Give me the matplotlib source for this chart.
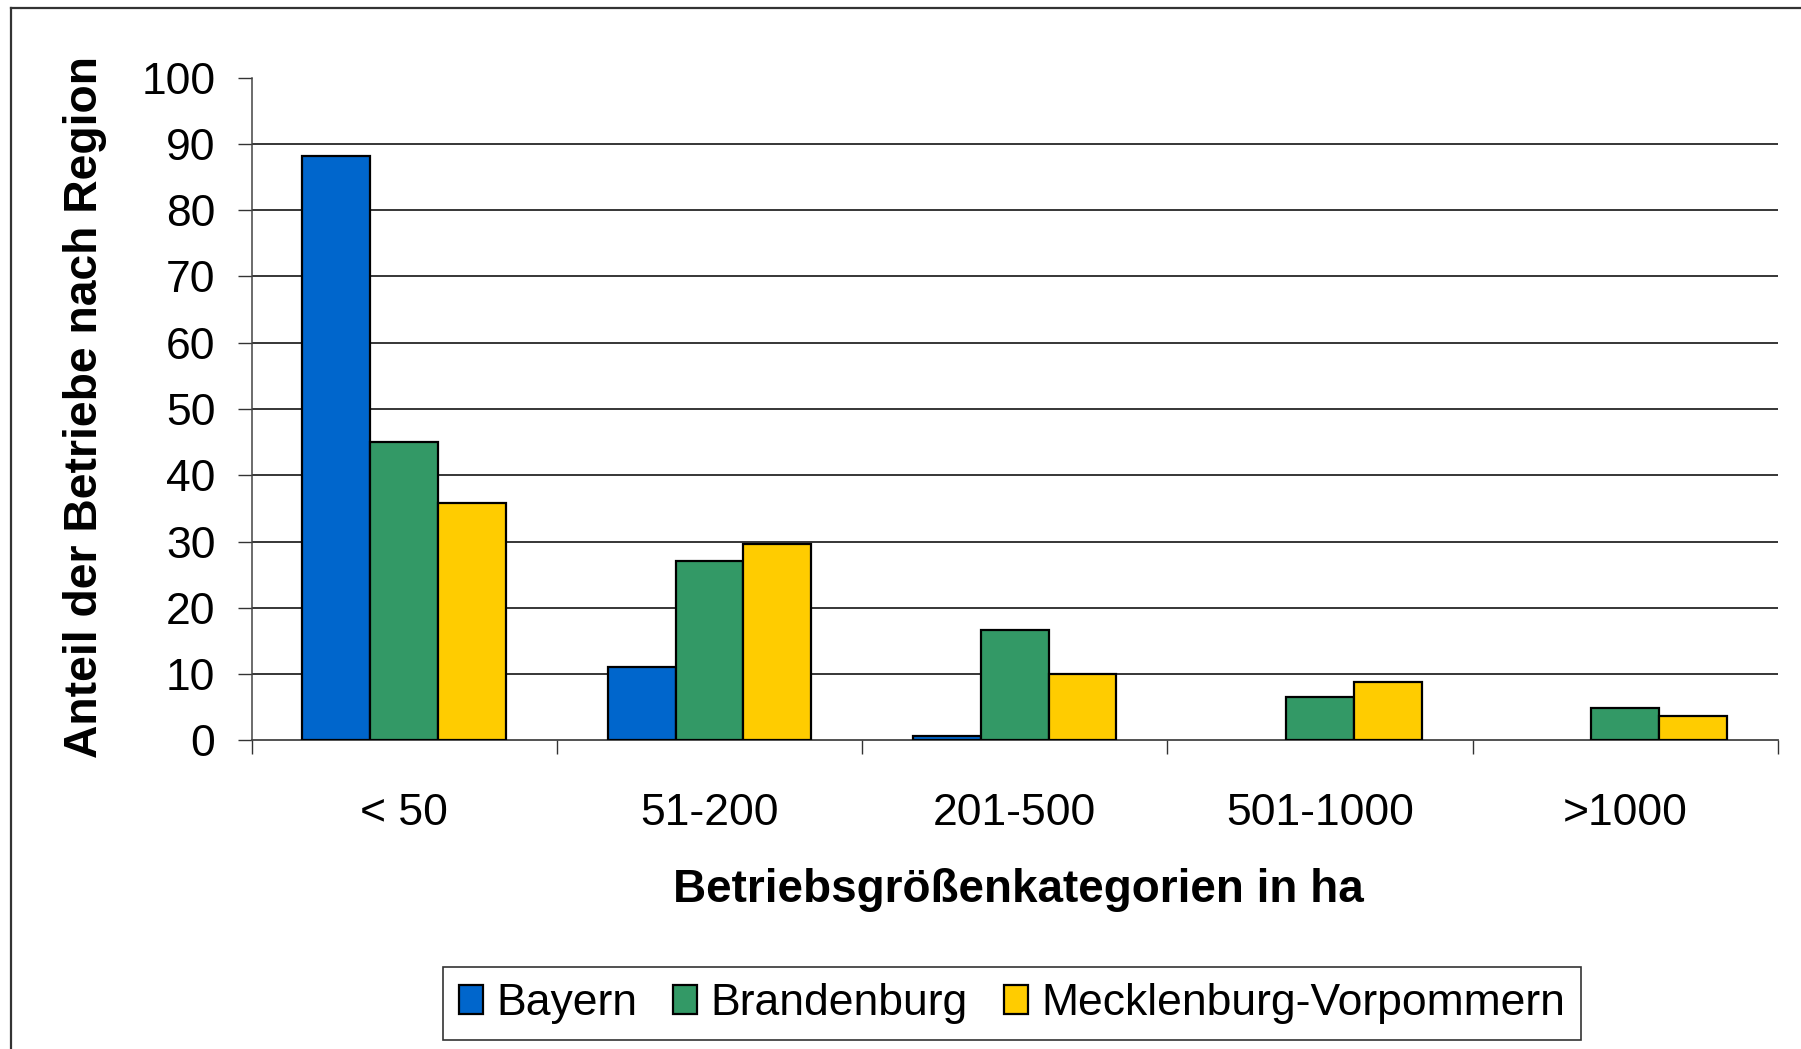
import matplotlib
matplotlib.use("Agg")
import matplotlib.pyplot as plt
from matplotlib.lines import Line2D
import numpy as np

plt.rcParams['font.family'] = ['Liberation Sans', 'DejaVu Sans']

categories = ["< 50", "51-200", "201-500", "501-1000", ">1000"]
series_names = ["Bayern", "Brandenburg", "Mecklenburg-Vorpommern"]
bayern = [88.2, 11.0, 0.6, 0.0, 0.0]
brandenburg = [45.0, 27.1, 16.6, 6.6, 4.8]
mv = [35.8, 29.7, 10.0, 8.8, 3.6]
colors = ["#0066CC", "#339966", "#FFCC00"]
yticks = [0, 10, 20, 30, 40, 50, 60, 70, 80, 90, 100]

W, H = 1801, 1049
fig = plt.figure(figsize=(W / 100, H / 100), dpi=100)
ax = fig.add_axes([251.5 / W, 1 - 740.3 / H, (1778 - 251.5) / W, (740.3 - 77.7) / H])

x = np.arange(len(categories))
bw = 0.222
for j, (vals, name, c) in enumerate(zip([bayern, brandenburg, mv], series_names, colors)):
    v = np.array(vals, dtype=float)
    v[v == 0] = np.nan  # zero-height bars are not visible in the original
    ax.bar(x + (j - 1) * bw, v, width=bw, color=c, edgecolor="black",
           linewidth=1.6, label=name, zorder=3)

ax.set_xlim(-0.5, len(categories) - 0.5)
ax.set_ylim(0, 100)
ax.set_yticks(yticks)
ax.set_yticklabels([str(t) for t in yticks], fontsize=32)
for t in yticks[1:-1]:
    ax.axhline(t, color="black", linewidth=1.1, zorder=1)

ax.set_xticks(x)
ax.set_xticklabels(categories, fontsize=32)
ax.set_xticks(np.arange(-0.5, len(categories)), minor=True)
ax.tick_params(axis="x", which="major", length=0, pad=38)
ax.tick_params(axis="x", which="minor", length=10, width=1, color="#333333", direction="out")
ax.tick_params(axis="y", length=10, width=1, color="#333333", pad=16)

for s in ["top", "right"]:
    ax.spines[s].set_visible(False)
ax.spines["left"].set_color("#444444")
ax.spines["bottom"].set_color("#444444")
ax.spines["left"].set_linewidth(1.1)
ax.spines["bottom"].set_linewidth(1.3)

fig.text(85 / W, 1 - 407 / H, "Anteil der Betriebe nach Region", rotation=90,
         fontsize=33.3, fontweight="bold", ha="center", va="center")
fig.text(1018 / W, 1 - 890 / H, "Betriebsgrößenkategorien in ha",
         fontsize=33, fontweight="bold", ha="center", va="center")

leg = fig.legend(loc="center", bbox_to_anchor=(1012 / W, 1 - 1003.5 / H), ncol=3,
                 fontsize=32, frameon=True, fancybox=False, edgecolor="black",
                 handlelength=0.55, handleheight=0.65, handletextpad=0.3,
                 columnspacing=0.8, borderpad=0.35, borderaxespad=0)
leg.get_frame().set_linewidth(1.2)

# outer chart frame (top and left only visible)
fig.add_artist(Line2D([10.7 / W, 1.0], [1 - 8.3 / H, 1 - 8.3 / H], color="#333333", linewidth=1.6))
fig.add_artist(Line2D([10.7 / W, 10.7 / W], [0.0, 1 - 8.3 / H], color="#333333", linewidth=1.6))

fig.savefig("out.png", dpi=100, facecolor="white")
